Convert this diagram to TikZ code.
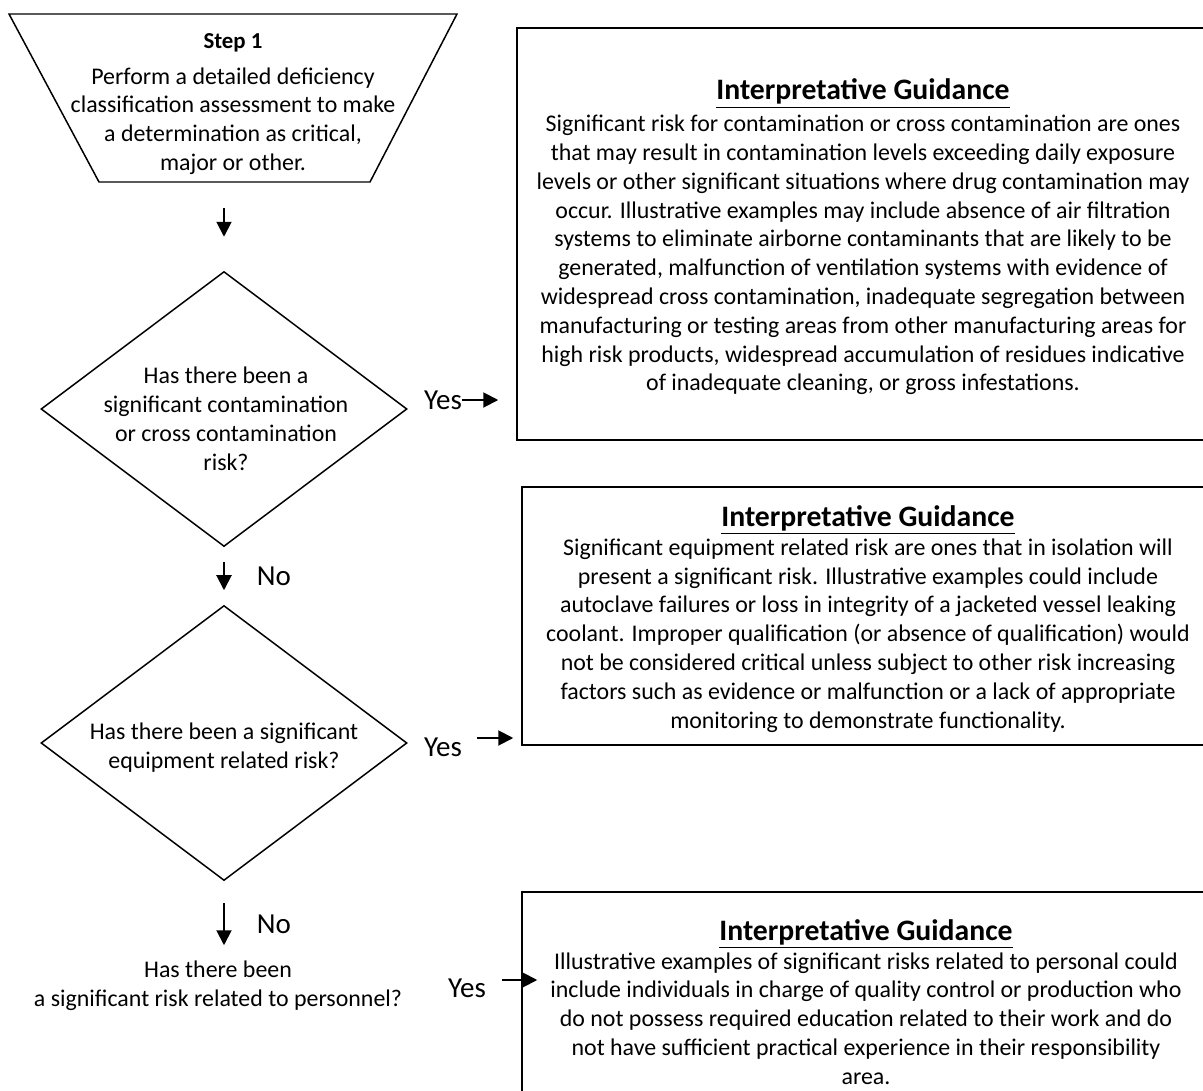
\documentclass[tikz,border=0pt]{standalone}
\usepackage{fontspec}
\setmainfont{Carlito}
\usepackage{tikz}
\usetikzlibrary{arrows.meta,positioning,shapes.geometric}
\tikzset{
  flowtext/.style={align=center,inner sep=0pt,
                   font=\fontsize{13.6}{16.4}\selectfont},
  decision/.style={diamond,draw,line width=0.85pt,
                   minimum width=7.32cm,minimum height=5.5cm,inner sep=0pt},
  guidebox/.style={rectangle,draw,line width=1.1pt,minimum width=13.88cm},
  answer/.style={inner sep=0pt,font=\fontsize{16.5}{19}\selectfont},
  arr/.style={-{Triangle[length=0.3cm,width=0.3cm]},line width=1.1pt},
}
\newcommand{\guidehead}{{\fontsize{16.9}{20}\selectfont\bfseries
  \underline{Interpretative Guidance}}}

\begin{document}
\begin{tikzpicture}

  \useasboundingbox (0,0) rectangle (24.06,-21.82);
  \clip (0,0) rectangle (24.06,-21.82);

  \def\flowX{4.48}

  %% Step 1
  \draw[line width=0.85pt] (0.18,-0.28) -- (9.14,-0.28)
    -- (7.40,-3.64) -- (1.98,-3.64) -- cycle;
  \node[flowtext] (step1) at (4.66,-2.08)
    {{\fontsize{13}{15}\selectfont\bfseries Step 1}\\[0.14cm]
     Perform a detailed deficiency\\
     classification assessment to make\\
     a determination as critical,\\
     major or other.};

  %% Decisions
  \node[decision] (dec1) at (\flowX,-8.18) {};
  \node[flowtext] (dec1txt) at (4.52,-8.38)
    {Has there been a\\ significant contamination\\
     or cross contamination\\ risk?};

  \node[decision] (dec2) at (\flowX,-14.86) {};
  \node[flowtext] (dec2txt) at (\flowX,-14.96)
    {Has there been a significant\\ equipment related risk?};

  \node[flowtext] (persq) at (4.36,-19.72)
    {Has there been\\ a significant risk related to personnel?};

  %% Down arrows
  \draw[arr] ([yshift=1.26cm]dec1.north) -- ++(0,-0.58);
  \draw[arr] ([yshift=-0.3cm]dec1.south) --
    node[answer,right=0.64cm] (no1) {No} ++(0,-0.56);
  \draw[arr] ([yshift=-0.44cm]dec2.south) --
    node[answer,right=0.64cm] (no2) {No} ++(0,-0.84);

  %% Guidance boxes
  \node[guidebox,minimum height=8.24cm] (guide1) at (17.28,-4.68) {};
  \node[flowtext] (guide1txt) at (17.26,-4.74)
    {\guidehead\\[0.06cm]
     Significant risk for contamination or cross contamination are ones\\
     that may result in contamination levels exceeding daily exposure\\
     levels or other significant situations where drug contamination may\\
     occur. Illustrative examples may include absence of air filtration\\
     systems to eliminate airborne contaminants that are likely to be\\
     generated, malfunction of ventilation systems with evidence of\\
     widespread cross contamination, inadequate segregation between\\
     manufacturing or testing areas from other manufacturing areas for\\
     high risk products, widespread accumulation of residues indicative\\
     of inadequate cleaning, or gross infestations.};

  \node[guidebox,minimum height=5.16cm] (guide2) at (17.38,-12.32) {};
  \node[flowtext] (guide2txt) at (17.36,-12.38)
    {\guidehead\\
     Significant equipment related risk are ones that in isolation will\\
     present a significant risk. Illustrative examples could include\\
     autoclave failures or loss in integrity of a jacketed vessel leaking\\
     coolant. Improper qualification (or absence of qualification) would\\
     not be considered critical unless subject to other risk increasing\\
     factors such as evidence or malfunction or a lack of appropriate\\
     monitoring to demonstrate functionality.};

  \node[guidebox,minimum height=4.4cm] (guide3) at (17.38,-20.04) {};
  \node[flowtext] (guide3txt) at (17.32,-20.04)
    {\guidehead\\
     Illustrative examples of significant risks related to personal could\\
     include individuals in charge of quality control or production who\\
     do not possess required education related to their work and do\\
     not have sufficient practical experience in their responsibility\\
     area.};

  %% Yes branches
  \node[answer] (yes1) at (8.86,-8.0) {Yes};
  \draw[arr] (yes1.east) -- ++(0.72,0);

  \node[answer] (yes2) at (8.86,-14.94) {Yes};
  \draw[arr] ([xshift=0.3cm,yshift=0.18cm]yes2.east) -- ++(0.72,0);

  \node[answer] (yes3) at (9.34,-19.76) {Yes};
  \draw[arr] ([xshift=0.32cm,yshift=0.16cm]yes3.east) -- ++(0.7,0);

\end{tikzpicture}
\end{document}
